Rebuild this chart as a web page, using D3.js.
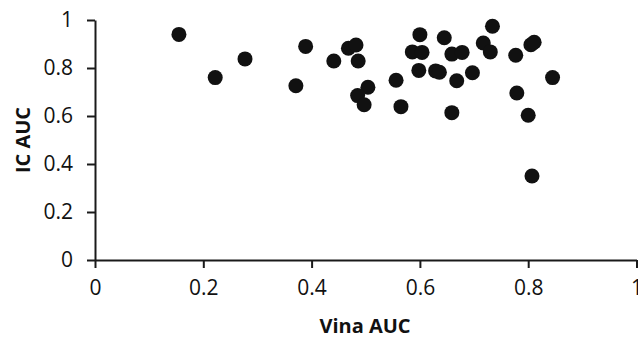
<!DOCTYPE html>
<html>
<head>
<meta charset="utf-8">
<script src="https://cdn.jsdelivr.net/npm/d3@7/dist/d3.min.js"></script>
<style>
  html, body { margin: 0; padding: 0; background: #fff; }
  svg { display: block; }
</style>
</head>
<body>
<svg id="chart" width="638" height="338"></svg>
<script>
const vinaAUC = [0.155, 0.222, 0.277, 0.371, 0.389, 0.441, 0.468, 0.482, 0.486, 0.504,
                 0.485, 0.497, 0.556, 0.565, 0.600, 0.586, 0.604, 0.598, 0.629, 0.636,
                 0.645, 0.659, 0.678, 0.668, 0.659, 0.697, 0.717, 0.730, 0.734, 0.777,
                 0.779, 0.800, 0.805, 0.811, 0.845, 0.807];
const icAUC   = [0.940, 0.760, 0.838, 0.726, 0.890, 0.829, 0.882, 0.896, 0.829, 0.720,
                 0.685, 0.647, 0.749, 0.639, 0.939, 0.867, 0.865, 0.790, 0.788, 0.782,
                 0.926, 0.858, 0.865, 0.747, 0.614, 0.780, 0.904, 0.867, 0.974, 0.853,
                 0.696, 0.603, 0.897, 0.907, 0.760, 0.350];
const xTicks = [0, 0.2, 0.4, 0.6, 0.8, 1];
const yTicks = [0, 0.2, 0.4, 0.6, 0.8, 1];
const xTitle = "Vina AUC";
const yTitle = "IC AUC";

const font = "'Open Sans', Lato, sans-serif";
const svg = d3.select("#chart");
const x = d3.scaleLinear().domain([0, 1]).range([95, 636.5]);
const y = d3.scaleLinear().domain([0, 1]).range([260, 20]);
const fmt = d => d === 0 ? "0" : d === 1 ? "1" : d3.format(".1f")(d);
const axisColor = "#1a1a1a";

const gx = svg.append("g").attr("transform", "translate(0,260)")
  .call(d3.axisBottom(x).tickValues(xTicks).tickFormat(fmt).tickSize(8).tickSizeOuter(0).tickPadding(12));
const gy = svg.append("g").attr("transform", "translate(95,0)")
  .call(d3.axisLeft(y).tickValues(yTicks).tickFormat(fmt).tickSize(8).tickSizeOuter(0).tickPadding(14));

[gx, gy].forEach(g => {
  g.select(".domain").attr("stroke", axisColor).attr("stroke-width", 2);
  g.selectAll(".tick line").attr("stroke", axisColor).attr("stroke-width", 2);
  g.selectAll(".tick text").attr("fill", "#111").attr("font-size", 21).attr("font-family", font);
});

svg.append("g").selectAll("circle")
  .data(vinaAUC.map((v, i) => [v, icAUC[i]]))
  .join("circle")
  .attr("cx", d => x(d[0]))
  .attr("cy", d => y(d[1]))
  .attr("r", 7.5)
  .attr("fill", "#111");

svg.append("text")
  .attr("x", 365).attr("y", 333)
  .attr("text-anchor", "middle")
  .attr("font-family", font)
  .attr("font-weight", "bold").attr("font-size", 20).attr("fill", "#111")
  .text(xTitle);

svg.append("text")
  .attr("transform", "translate(30,140) rotate(-90)")
  .attr("text-anchor", "middle")
  .attr("font-family", font)
  .attr("font-weight", "bold").attr("font-size", 20).attr("fill", "#111")
  .text(yTitle);
</script>
</body>
</html>
